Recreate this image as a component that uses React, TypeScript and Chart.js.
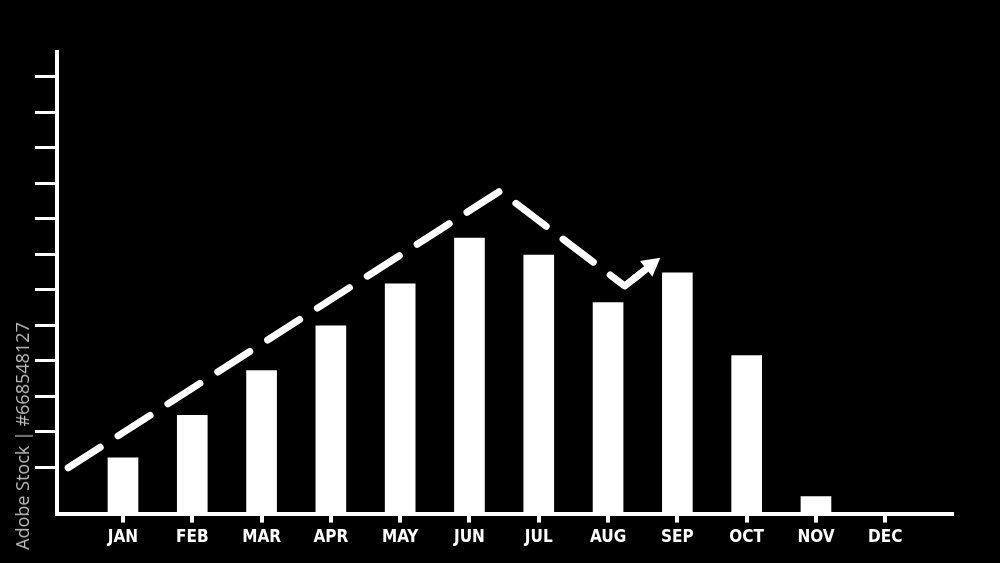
import React, { useEffect, useRef } from "react";
import { Chart, registerables } from "chart.js";

Chart.register(...registerables);

// ---- data ----
const months = ["JAN", "FEB", "MAR", "APR", "MAY", "JUN", "JUL", "AUG", "SEP", "OCT", "NOV", "DEC"];
const barValues = [15.7, 27.7, 40.3, 52.9, 64.7, 77.6, 72.8, 59.4, 67.8, 44.5, 4.8, 0];
const trendX = [-0.79, 5.44, 7.24, 7.55];
const trendY = [12.9, 90.8, 64.1, 68.9];
const yTicks = [13, 23, 33, 43, 53, 63, 73, 83, 93, 103, 113, 123];
const xTicks = [0, 1, 2, 3, 4, 5, 6, 7, 8, 9, 10, 11];
const X_MIN = -0.952;
const X_MAX = 11.963;
const Y_MIN = 0;
const Y_MAX = 130;

const arrowHead = {
  id: "arrowHead",
  afterDatasetsDraw(chart: any) {
    const meta = chart.getDatasetMeta(1);
    const pts = meta.data;
    if (!pts || pts.length < 2) return;
    const last = pts[pts.length - 1];
    const prev = pts[pts.length - 2];
    const ang = Math.atan2(last.y - prev.y, last.x - prev.x);
    const ctx = chart.ctx;
    const cos = Math.cos(ang);
    const sin = Math.sin(ang);
    ctx.save();
    ctx.strokeStyle = "#ffffff";
    ctx.fillStyle = "#ffffff";
    ctx.lineWidth = 7;
    ctx.lineCap = "round";
    ctx.beginPath();
    ctx.moveTo(last.x - 16 * cos, last.y - 16 * sin);
    ctx.lineTo(last.x, last.y);
    ctx.stroke();
    const len = 18;
    const half = 10;
    ctx.beginPath();
    ctx.moveTo(last.x + len * cos, last.y + len * sin);
    ctx.lineTo(last.x - half * sin, last.y + half * cos);
    ctx.lineTo(last.x + half * sin, last.y - half * cos);
    ctx.closePath();
    ctx.fill();
    ctx.restore();
  },
};

export default function App() {
  const ref = useRef<HTMLCanvasElement | null>(null);

  useEffect(() => {
    document.body.style.margin = "0";
    document.body.style.background = "#000";
    const canvas = ref.current;
    if (!canvas) return;
    const chart = new Chart(canvas, {
      type: "bar",
      data: {
        datasets: [
          {
            type: "bar",
            data: barValues.map((v, i) => ({ x: xTicks[i], y: v })),
            backgroundColor: "#ffffff",
            borderWidth: 0,
            barThickness: 30,
            order: 2,
          } as any,
          {
            type: "line",
            data: trendX.map((x, i) => ({ x, y: trendY[i] })),
            borderColor: "#ffffff",
            borderWidth: 7,
            borderDash: [38, 21.2],
            borderCapStyle: "round",
            borderJoinStyle: "round",
            pointRadius: 0,
            fill: false,
            tension: 0,
            order: 1,
          } as any,
        ],
      },
      options: {
        responsive: false,
        animation: false,
        layout: { padding: { left: 35, right: 48, top: 52, bottom: 10 } },
        plugins: {
          legend: { display: false },
          tooltip: { enabled: false },
        },
        scales: {
          x: {
            type: "linear",
            min: X_MIN,
            max: X_MAX,
            offset: false,
            bounds: "ticks",
            afterBuildTicks: (scale: any) => {
              scale.ticks = xTicks.map((v) => ({ value: v }));
            },
            border: { display: true, color: "#ffffff", width: 4 },
            grid: {
              display: true,
              offset: false,
              drawOnChartArea: false,
              drawTicks: true,
              tickLength: 9,
              color: "#ffffff",
              lineWidth: 4,
            },
            ticks: {
              autoSkip: false,
              maxRotation: 0,
              padding: 5,
              color: "#ffffff",
              font: {
                family: "'DejaVu Sans Condensed', 'Liberation Sans Narrow', sans-serif",
                size: 17,
                weight: "bold",
              },
              callback: (v: any) => months[Math.round(Number(v))] ?? "",
            },
          },
          y: {
            type: "linear",
            min: Y_MIN,
            max: Y_MAX,
            afterBuildTicks: (scale: any) => {
              scale.ticks = yTicks.map((v) => ({ value: v }));
            },
            border: { display: true, color: "#ffffff", width: 4 },
            grid: {
              display: true,
              drawOnChartArea: false,
              drawTicks: true,
              tickLength: 22,
              color: "#ffffff",
              lineWidth: 3,
            },
            ticks: { display: false },
          },
        },
      } as any,
      plugins: [arrowHead],
    });
    return () => chart.destroy();
  }, []);

  return (
    <div style={{ position: "relative", width: 1000, height: 563, background: "#000", overflow: "hidden" }}>
      <canvas ref={ref} width={1000} height={563} style={{ display: "block", width: 1000, height: 563 }} />
      <div
        style={{
          position: "absolute",
          left: 22,
          top: 436,
          transform: "translate(-50%, -50%) rotate(-90deg)",
          whiteSpace: "nowrap",
          fontFamily: "'Open Sans', sans-serif",
          fontSize: 18,
          color: "#bdbdbd",
        }}
      >
        Adobe Stock | #668548127
      </div>
    </div>
  );
}
